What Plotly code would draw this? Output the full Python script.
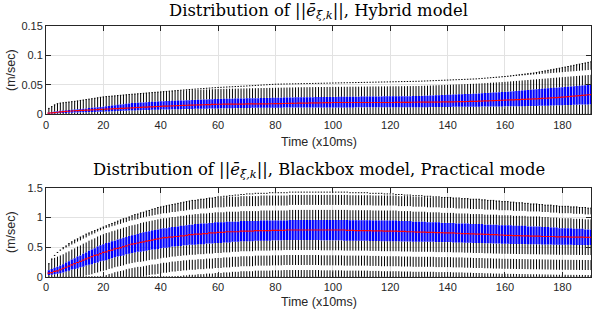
import plotly.graph_objects as go

# ---------------- data ----------------
steps = list(range(1, 191))

# Hybrid model: lower adjacent, Q1, median, Q3, upper adjacent (m/sec)
H_lo = [
0,0,0,0,0,0,0,0,0,0, 0,0,0,0,0,0,0,0,0,0, 0,0,0,0,0,0,0,0,0,0, 0,0,0,0,0,0,0,0,0,0,
0,0,0,0,0,0,0,0,0,0, 0,0,0,0,0,0,0,0,0,0, 0,0,0,0,0,0,0,0,0,0, 0,0,0,0,0,0,0,0,0,0,
0,0,0,0,0,0,0,0,0,0, 0,0,0,0,0,0,0,0,0,0, 0,0,0,0,0,0,0,0,0,0, 0,0,0,0,0,0,0,0,0,0,
0,0,0,0,0,0,0,0,0,0, 0,0,0,0,0,0,0,0,0,0, 0,0,0,0,0,0,0,0,0,0, 0,0,0,0,0,0,0,0,0,0,
0,0,0,0,0,0,0,0,0,0, 0,0,0,0,0,0,0,0,0,0, 0,0,0,0,0,0,0,0,0,0]
H_q1 = [
0.0010,0.0012,0.0015,0.0017,0.0020,0.0022,0.0024,0.0026,0.0028,0.0030,
0.0031,0.0033,0.0034,0.0036,0.0037,0.0039,0.0040,0.0042,0.0043,0.0045,
0.0047,0.0049,0.0051,0.0053,0.0055,0.0057,0.0059,0.0061,0.0063,0.0065,
0.0066,0.0068,0.0069,0.0071,0.0072,0.0074,0.0075,0.0077,0.0078,0.0080,
0.0081,0.0082,0.0083,0.0084,0.0085,0.0086,0.0087,0.0088,0.0089,0.0090,
0.0091,0.0092,0.0093,0.0094,0.0095,0.0096,0.0097,0.0098,0.0099,0.0100,
0.0101,0.0102,0.0102,0.0103,0.0104,0.0105,0.0106,0.0106,0.0107,0.0108,
0.0108,0.0109,0.0109,0.0110,0.0110,0.0111,0.0111,0.0112,0.0112,0.0113,
0.0113,0.0113,0.0114,0.0114,0.0114,0.0114,0.0115,0.0115,0.0115,0.0115,
0.0115,0.0115,0.0115,0.0115,0.0115,0.0116,0.0116,0.0116,0.0116,0.0116,
0.0116,0.0116,0.0117,0.0117,0.0117,0.0117,0.0117,0.0118,0.0118,0.0118,
0.0118,0.0118,0.0119,0.0119,0.0119,0.0119,0.0119,0.0120,0.0120,0.0120,
0.0120,0.0120,0.0120,0.0120,0.0120,0.0120,0.0120,0.0120,0.0120,0.0120,
0.0120,0.0121,0.0121,0.0122,0.0122,0.0123,0.0123,0.0124,0.0124,0.0125,
0.0125,0.0126,0.0126,0.0127,0.0127,0.0128,0.0128,0.0129,0.0129,0.0130,
0.0130,0.0131,0.0131,0.0132,0.0132,0.0133,0.0133,0.0134,0.0134,0.0135,
0.0135,0.0136,0.0136,0.0137,0.0137,0.0138,0.0138,0.0139,0.0139,0.0140,
0.0141,0.0143,0.0144,0.0146,0.0147,0.0149,0.0150,0.0152,0.0153,0.0155,
0.0156,0.0158,0.0159,0.0161,0.0162,0.0164,0.0165,0.0167,0.0168,0.0170]
H_med = [
0.0020,0.0025,0.0030,0.0035,0.0040,0.0044,0.0048,0.0052,0.0056,0.0060,
0.0062,0.0065,0.0067,0.0070,0.0072,0.0075,0.0077,0.0080,0.0082,0.0085,
0.0087,0.0090,0.0092,0.0095,0.0097,0.0100,0.0102,0.0105,0.0107,0.0110,
0.0112,0.0115,0.0117,0.0120,0.0122,0.0125,0.0127,0.0130,0.0132,0.0135,
0.0137,0.0139,0.0141,0.0143,0.0145,0.0147,0.0149,0.0151,0.0153,0.0155,
0.0156,0.0158,0.0159,0.0161,0.0162,0.0164,0.0165,0.0167,0.0168,0.0170,
0.0170,0.0171,0.0171,0.0172,0.0172,0.0173,0.0173,0.0174,0.0174,0.0175,
0.0175,0.0176,0.0176,0.0177,0.0177,0.0178,0.0178,0.0179,0.0179,0.0180,
0.0181,0.0182,0.0183,0.0184,0.0185,0.0186,0.0187,0.0188,0.0189,0.0190,
0.0191,0.0192,0.0193,0.0194,0.0195,0.0196,0.0197,0.0198,0.0199,0.0200,
0.0200,0.0200,0.0200,0.0200,0.0200,0.0200,0.0200,0.0200,0.0200,0.0200,
0.0200,0.0200,0.0200,0.0200,0.0200,0.0200,0.0200,0.0200,0.0200,0.0200,
0.0200,0.0201,0.0201,0.0202,0.0202,0.0203,0.0203,0.0204,0.0204,0.0205,
0.0205,0.0206,0.0206,0.0207,0.0207,0.0208,0.0208,0.0209,0.0209,0.0210,
0.0211,0.0212,0.0213,0.0214,0.0215,0.0216,0.0217,0.0218,0.0219,0.0220,
0.0222,0.0224,0.0226,0.0228,0.0230,0.0232,0.0234,0.0236,0.0238,0.0240,
0.0242,0.0244,0.0246,0.0248,0.0250,0.0252,0.0254,0.0256,0.0258,0.0260,
0.0263,0.0266,0.0269,0.0272,0.0275,0.0278,0.0281,0.0284,0.0287,0.0290,
0.0295,0.0299,0.0304,0.0308,0.0313,0.0317,0.0322,0.0326,0.0331,0.0335]
H_q3 = [
0.0030,0.0040,0.0047,0.0053,0.0060,0.0064,0.0068,0.0072,0.0076,0.0080,
0.0085,0.0090,0.0095,0.0100,0.0105,0.0110,0.0115,0.0120,0.0125,0.0130,
0.0136,0.0142,0.0148,0.0154,0.0160,0.0166,0.0172,0.0178,0.0184,0.0190,
0.0193,0.0196,0.0199,0.0202,0.0205,0.0208,0.0211,0.0214,0.0217,0.0220,
0.0222,0.0224,0.0226,0.0228,0.0230,0.0232,0.0234,0.0236,0.0238,0.0240,
0.0242,0.0244,0.0246,0.0248,0.0250,0.0252,0.0254,0.0256,0.0258,0.0260,
0.0261,0.0262,0.0263,0.0264,0.0265,0.0266,0.0267,0.0268,0.0269,0.0270,
0.0271,0.0272,0.0273,0.0274,0.0275,0.0276,0.0277,0.0278,0.0279,0.0280,
0.0281,0.0282,0.0283,0.0284,0.0285,0.0286,0.0287,0.0288,0.0289,0.0290,
0.0290,0.0291,0.0291,0.0292,0.0292,0.0293,0.0293,0.0294,0.0294,0.0295,
0.0295,0.0296,0.0296,0.0297,0.0297,0.0298,0.0298,0.0299,0.0299,0.0300,
0.0300,0.0301,0.0301,0.0302,0.0302,0.0303,0.0303,0.0304,0.0304,0.0305,
0.0305,0.0306,0.0306,0.0307,0.0307,0.0308,0.0308,0.0309,0.0309,0.0310,
0.0312,0.0314,0.0316,0.0318,0.0320,0.0322,0.0324,0.0326,0.0328,0.0330,
0.0332,0.0334,0.0336,0.0338,0.0340,0.0342,0.0344,0.0346,0.0348,0.0350,
0.0353,0.0356,0.0359,0.0362,0.0365,0.0368,0.0371,0.0374,0.0377,0.0380,
0.0384,0.0388,0.0392,0.0396,0.0400,0.0404,0.0408,0.0412,0.0416,0.0420,
0.0424,0.0428,0.0432,0.0436,0.0440,0.0444,0.0448,0.0452,0.0456,0.0460,
0.0464,0.0468,0.0472,0.0476,0.0480,0.0484,0.0488,0.0492,0.0496,0.0500]
H_hi = [
0.0100,0.0130,0.0160,0.0180,0.0190,0.0196,0.0202,0.0208,0.0214,0.0220,
0.0227,0.0235,0.0242,0.0250,0.0257,0.0264,0.0272,0.0280,0.0288,0.0295,
0.0300,0.0304,0.0309,0.0313,0.0318,0.0322,0.0327,0.0331,0.0336,0.0340,
0.0344,0.0348,0.0352,0.0356,0.0360,0.0364,0.0368,0.0372,0.0376,0.0380,
0.0384,0.0388,0.0392,0.0396,0.0400,0.0404,0.0408,0.0412,0.0416,0.0420,
0.0423,0.0427,0.0430,0.0434,0.0437,0.0441,0.0444,0.0448,0.0451,0.0455,
0.0457,0.0460,0.0462,0.0465,0.0467,0.0470,0.0472,0.0475,0.0477,0.0480,
0.0483,0.0486,0.0489,0.0492,0.0495,0.0498,0.0501,0.0504,0.0507,0.0510,
0.0511,0.0512,0.0513,0.0514,0.0515,0.0516,0.0517,0.0518,0.0519,0.0520,
0.0521,0.0522,0.0523,0.0524,0.0525,0.0526,0.0527,0.0528,0.0529,0.0530,
0.0531,0.0532,0.0533,0.0534,0.0535,0.0536,0.0537,0.0538,0.0539,0.0540,
0.0541,0.0542,0.0543,0.0544,0.0545,0.0546,0.0547,0.0548,0.0549,0.0550,
0.0551,0.0552,0.0553,0.0554,0.0555,0.0556,0.0557,0.0558,0.0559,0.0560,
0.0562,0.0564,0.0566,0.0568,0.0570,0.0572,0.0574,0.0576,0.0578,0.0580,
0.0582,0.0584,0.0586,0.0588,0.0590,0.0592,0.0594,0.0596,0.0598,0.0600,
0.0604,0.0608,0.0612,0.0616,0.0620,0.0624,0.0628,0.0632,0.0636,0.0640,
0.0646,0.0652,0.0658,0.0664,0.0670,0.0676,0.0682,0.0688,0.0694,0.0700,
0.0709,0.0718,0.0727,0.0736,0.0745,0.0754,0.0763,0.0772,0.0781,0.0790,
0.0800,0.0810,0.0820,0.0830,0.0840,0.0850,0.0860,0.0870,0.0880,0.0890]

# Blackbox model, practical mode (m/sec)
B_lo = [
0,0,0,0,0,0,0,0,0,0, 0,0,0,0,0,0,0,0,0,0, 0,0,0,0,0,0,0,0,0,0, 0,0,0,0,0,0,0,0,0,0,
0,0,0,0,0,0,0,0,0,0, 0,0,0,0,0,0,0,0,0,0, 0,0,0,0,0,0,0,0,0,0, 0,0,0,0,0,0,0,0,0,0,
0,0,0,0,0,0,0,0,0,0, 0,0,0,0,0,0,0,0,0,0, 0,0,0,0,0,0,0,0,0,0, 0,0,0,0,0,0,0,0,0,0,
0,0,0,0,0,0,0,0,0,0, 0,0,0,0,0,0,0,0,0,0, 0,0,0,0,0,0,0,0,0,0, 0,0,0,0,0,0,0,0,0,0,
0,0,0,0,0,0,0,0,0,0, 0,0,0,0,0,0,0,0,0,0, 0,0,0,0,0,0,0,0,0,0]
B_q1 = [
0.03,0.035,0.04,0.05,0.06,0.07,0.09,0.10,0.12,0.13,
0.14,0.16,0.17,0.19,0.20,0.21,0.23,0.24,0.26,0.27,
0.28,0.30,0.31,0.33,0.34,0.35,0.36,0.38,0.39,0.40,
0.41,0.42,0.42,0.43,0.44,0.45,0.46,0.46,0.47,0.48,
0.49,0.49,0.50,0.51,0.51,0.52,0.52,0.53,0.53,0.54,
0.54,0.54,0.55,0.55,0.55,0.56,0.56,0.56,0.57,0.57,
0.57,0.58,0.58,0.58,0.59,0.59,0.59,0.60,0.60,0.60,
0.60,0.60,0.61,0.61,0.61,0.61,0.61,0.61,0.615,0.615,
0.615,0.615,0.62,0.62,0.62,0.62,0.62,0.62,0.62,0.62,
0.62,0.62,0.62,0.62,0.62,0.615,0.615,0.615,0.615,0.615,
0.615,0.615,0.615,0.61,0.61,0.61,0.61,0.61,0.61,0.61,
0.61,0.61,0.605,0.605,0.605,0.605,0.60,0.60,0.60,0.60,
0.60,0.60,0.60,0.595,0.595,0.595,0.595,0.59,0.59,0.59,
0.59,0.59,0.59,0.59,0.59,0.585,0.585,0.585,0.585,0.585,
0.585,0.58,0.58,0.58,0.58,0.575,0.575,0.575,0.57,0.57,
0.57,0.57,0.565,0.565,0.565,0.56,0.56,0.56,0.556,0.556,
0.556,0.555,0.555,0.553,0.552,0.552,0.551,0.55,0.549,0.548,
0.548,0.547,0.546,0.545,0.544,0.543,0.542,0.541,0.54,0.54,
0.54,0.539,0.539,0.538,0.538,0.537,0.537,0.536,0.536,0.535]
B_med = [
0.06,0.07,0.09,0.10,0.12,0.14,0.16,0.18,0.20,0.22,
0.24,0.26,0.28,0.30,0.32,0.34,0.36,0.37,0.39,0.41,
0.42,0.44,0.45,0.47,0.48,0.49,0.51,0.52,0.54,0.55,
0.56,0.57,0.58,0.59,0.60,0.61,0.62,0.63,0.64,0.65,
0.66,0.66,0.67,0.67,0.68,0.68,0.69,0.69,0.70,0.71,
0.71,0.72,0.72,0.72,0.73,0.73,0.74,0.74,0.74,0.75,
0.75,0.75,0.76,0.76,0.76,0.76,0.76,0.77,0.77,0.77,
0.77,0.77,0.78,0.78,0.78,0.78,0.78,0.78,0.785,0.785,
0.785,0.785,0.785,0.79,0.79,0.79,0.79,0.79,0.79,0.79,
0.79,0.79,0.79,0.79,0.79,0.79,0.79,0.79,0.79,0.79,
0.79,0.79,0.79,0.79,0.785,0.785,0.785,0.78,0.78,0.78,
0.78,0.78,0.78,0.775,0.775,0.775,0.775,0.77,0.77,0.77,
0.77,0.77,0.765,0.765,0.765,0.76,0.76,0.76,0.755,0.755,
0.755,0.755,0.75,0.75,0.75,0.745,0.745,0.745,0.74,0.74,
0.74,0.74,0.735,0.735,0.73,0.73,0.73,0.725,0.725,0.72,
0.72,0.72,0.715,0.715,0.71,0.71,0.71,0.705,0.705,0.70,
0.70,0.70,0.695,0.695,0.695,0.69,0.69,0.69,0.685,0.685,
0.685,0.685,0.68,0.68,0.68,0.68,0.68,0.675,0.675,0.675,
0.675,0.675,0.67,0.67,0.67,0.67,0.67,0.665,0.665,0.665]
B_q3 = [
0.11,0.13,0.15,0.17,0.19,0.21,0.24,0.26,0.29,0.31,
0.34,0.36,0.39,0.41,0.44,0.46,0.48,0.51,0.53,0.55,
0.57,0.58,0.60,0.61,0.63,0.64,0.66,0.67,0.69,0.70,
0.71,0.72,0.74,0.75,0.76,0.77,0.78,0.79,0.80,0.81,
0.82,0.82,0.83,0.84,0.84,0.85,0.86,0.86,0.87,0.88,
0.88,0.89,0.89,0.90,0.90,0.90,0.91,0.91,0.92,0.92,
0.92,0.92,0.93,0.93,0.93,0.93,0.93,0.94,0.94,0.94,
0.94,0.94,0.94,0.94,0.95,0.95,0.95,0.95,0.95,0.95,
0.95,0.95,0.95,0.95,0.96,0.96,0.96,0.96,0.96,0.96,
0.96,0.96,0.96,0.96,0.96,0.96,0.96,0.96,0.96,0.96,
0.96,0.96,0.96,0.96,0.96,0.955,0.955,0.955,0.955,0.955,
0.955,0.955,0.955,0.95,0.95,0.95,0.95,0.95,0.95,0.95,
0.95,0.95,0.94,0.94,0.94,0.94,0.94,0.93,0.93,0.93,
0.93,0.93,0.92,0.92,0.92,0.92,0.92,0.91,0.91,0.91,
0.91,0.91,0.90,0.90,0.90,0.90,0.90,0.89,0.89,0.89,
0.89,0.89,0.88,0.88,0.88,0.88,0.88,0.87,0.87,0.87,
0.87,0.87,0.86,0.86,0.86,0.86,0.86,0.85,0.85,0.85,
0.85,0.85,0.84,0.84,0.84,0.83,0.83,0.83,0.82,0.82,
0.82,0.82,0.82,0.81,0.81,0.81,0.81,0.80,0.80,0.80]
B_hi = [
0.22,0.30,0.36,0.41,0.45,0.49,0.52,0.56,0.59,0.62,
0.64,0.67,0.69,0.72,0.74,0.76,0.78,0.80,0.82,0.84,
0.86,0.88,0.90,0.92,0.94,0.96,0.98,0.99,1.01,1.03,
1.05,1.06,1.08,1.09,1.11,1.12,1.14,1.15,1.17,1.18,
1.19,1.20,1.21,1.22,1.23,1.24,1.25,1.26,1.27,1.28,
1.29,1.29,1.30,1.31,1.31,1.32,1.33,1.33,1.34,1.35,
1.35,1.36,1.36,1.37,1.37,1.38,1.38,1.39,1.39,1.40,
1.40,1.40,1.41,1.41,1.41,1.41,1.41,1.42,1.42,1.42,
1.42,1.42,1.42,1.42,1.43,1.43,1.43,1.43,1.43,1.43,
1.43,1.43,1.43,1.43,1.43,1.43,1.43,1.43,1.43,1.43,
1.43,1.43,1.43,1.43,1.43,1.42,1.42,1.42,1.42,1.42,
1.42,1.42,1.41,1.41,1.41,1.41,1.41,1.40,1.40,1.40,
1.40,1.39,1.39,1.39,1.38,1.38,1.38,1.37,1.37,1.37,
1.37,1.36,1.36,1.36,1.35,1.35,1.35,1.34,1.34,1.34,
1.34,1.33,1.33,1.33,1.32,1.32,1.32,1.31,1.31,1.31,
1.31,1.30,1.30,1.29,1.29,1.29,1.28,1.28,1.27,1.27,
1.27,1.26,1.26,1.25,1.25,1.25,1.24,1.24,1.23,1.23,
1.23,1.22,1.22,1.21,1.21,1.21,1.20,1.20,1.19,1.19,
1.19,1.19,1.18,1.18,1.18,1.17,1.17,1.17,1.16,1.16]

x_ticks = [0, 20, 40, 60, 80, 100, 120, 140, 160, 180]
H_yticks = [0, 0.05, 0.1, 0.15]
B_yticks = [0, 0.5, 1, 1.5]
title_H = "Distribution of ||<i>e\u0304</i><sub><i>\u03be\u0307,k</i></sub>||, Hybrid model"
title_B = "Distribution of ||<i>e\u0304</i><sub><i>\u03be\u0307,k</i></sub>||, Blackbox model, Practical mode"
x_title = "Time (x10ms)"
y_title = "(m/sec)"

# ---------------- helpers ----------------
def vsegs(xs, a, b):
    X, Y = [], []
    for xi, p, q in zip(xs, a, b):
        X += [xi, xi, None]
        Y += [p, q, None]
    return X, Y

def hsegs(xs, v, half):
    X, Y = [], []
    for xi, p in zip(xs, v):
        X += [xi - half, xi + half, None]
        Y += [p, p, None]
    return X, Y

fig = go.Figure()

def add_panel(lo, q1, med, q3, hi, xa, ya):
    dash = dict(color="black", width=1, dash="10px,5px")
    # whiskers (dashed, drawn from the box edge outward)
    X, Y = vsegs(steps, q3, hi)
    fig.add_trace(go.Scatter(x=X, y=Y, mode="lines", xaxis=xa, yaxis=ya, line=dash, hoverinfo="skip"))
    X, Y = vsegs(steps, q1, lo)
    fig.add_trace(go.Scatter(x=X, y=Y, mode="lines", xaxis=xa, yaxis=ya, line=dash, hoverinfo="skip"))
    # caps (adjacent values)
    X1, Y1 = hsegs(steps, hi, 0.25)
    X2, Y2 = hsegs(steps, lo, 0.25)
    fig.add_trace(go.Scatter(x=X1 + X2, y=Y1 + Y2, mode="lines", xaxis=xa, yaxis=ya,
                             line=dict(color="black", width=1), hoverinfo="skip"))
    # boxes
    X, Y = vsegs(steps, q1, q3)
    fig.add_trace(go.Scatter(x=X, y=Y, mode="lines", xaxis=xa, yaxis=ya,
                             line=dict(color="#0000ff", width=2.2), hoverinfo="skip"))
    # medians
    X, Y = hsegs(steps, med, 0.5)
    fig.add_trace(go.Scatter(x=X, y=Y, mode="lines", xaxis=xa, yaxis=ya,
                             line=dict(color="#ff0000", width=1.2), hoverinfo="skip"))

add_panel(H_lo, H_q1, H_med, H_q3, H_hi, "x", "y")
add_panel(B_lo, B_q1, B_med, B_q3, B_hi, "x2", "y2")

W, Hh = 594, 310
xdom = [46 / W, 591 / W]
axcol = "#262626"
tickfont = dict(family="Liberation Sans, Arial, sans-serif", size=11, color=axcol)
common_x = dict(range=[0, 190], tickvals=x_ticks, showgrid=True, gridcolor="#e2e2e2", gridwidth=1,
                showline=True, linecolor=axcol, linewidth=1, mirror="ticks", ticks="inside",
                ticklen=5, tickcolor=axcol, tickfont=tickfont, zeroline=False, domain=xdom,
                automargin=False)
common_y = dict(showgrid=True, gridcolor="#e2e2e2", gridwidth=1, showline=True, linecolor=axcol,
                linewidth=1, mirror="ticks", ticks="inside", ticklen=5, tickcolor=axcol,
                tickfont=tickfont, zeroline=False, automargin=False)

fig.update_layout(
    template="none",
    width=W, height=Hh, margin=dict(l=0, r=0, t=0, b=0, pad=0), autosize=False,
    paper_bgcolor="white", plot_bgcolor="white", showlegend=False,
    xaxis=dict(common_x, anchor="y"),
    yaxis=dict(common_y, range=[0, 0.15], tickvals=H_yticks, anchor="x",
               domain=[1 - 114.3 / Hh, 1 - 25.8 / Hh]),
    xaxis2=dict(common_x, anchor="y2"),
    yaxis2=dict(common_y, range=[0, 1.5], tickvals=B_yticks, anchor="x2",
                domain=[1 - 276.7 / Hh, 1 - 188 / Hh]),
)

serif = dict(family="DejaVu Serif, serif", size=16.4, color="black")
sans = dict(family="Liberation Sans, Arial, sans-serif", size=12.5, color=axcol)
cx = (46 + 591) / 2 / W
ann = [
    dict(text=title_H, x=cx, y=1 - 11.5 / Hh, xref="paper", yref="paper", xanchor="center",
         yanchor="middle", showarrow=False, font=serif),
    dict(text=title_B, x=cx, y=1 - 170 / Hh, xref="paper", yref="paper", xanchor="center",
         yanchor="middle", showarrow=False, font=serif),
    dict(text=x_title, x=cx, y=1 - 142 / Hh, xref="paper", yref="paper", xanchor="center",
         yanchor="middle", showarrow=False, font=sans),
    dict(text=x_title, x=cx, y=1 - 302 / Hh, xref="paper", yref="paper", xanchor="center",
         yanchor="middle", showarrow=False, font=sans),
    dict(text=y_title, x=11 / W, y=1 - 70 / Hh, xref="paper", yref="paper", xanchor="center",
         yanchor="middle", showarrow=False, font=sans, textangle=-90),
    dict(text=y_title, x=11 / W, y=1 - 232 / Hh, xref="paper", yref="paper", xanchor="center",
         yanchor="middle", showarrow=False, font=sans, textangle=-90),
]
fig.update_layout(annotations=ann)

fig.write_html("out.html", config={"displayModeBar": False},
               post_script="document.body.style.margin='0px';")
